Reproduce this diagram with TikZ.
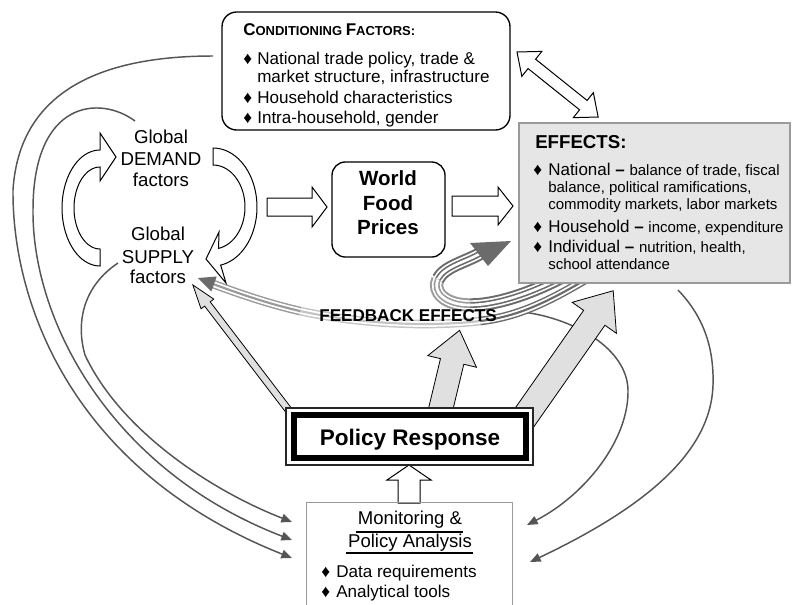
\documentclass[tikz,border=0pt]{standalone}
\usepackage{fontspec}
\setmainfont{Liberation Sans}
\usetikzlibrary{arrows.meta,fit}
\definecolor{curvegray}{HTML}{555555}
\definecolor{rdark}{HTML}{6B6B6B}
\definecolor{rlight}{HTML}{C4C4C4}
\definecolor{rmid}{HTML}{9A9A9A}
\definecolor{effbg}{HTML}{E6E6E6}
\definecolor{effline}{HTML}{9A9A9A}
\definecolor{arrfill}{HTML}{E0E0E0}
\newcommand\blockarr[8]{%
  \draw[#1,shift={(#2,#3)},rotate=#4] (0,-#6) -- ({#5-#8},-#6) -- ({#5-#8},-#7) -- (#5,0) -- ({#5-#8},#7) -- ({#5-#8},#6) -- (0,#6) -- cycle;}
\newcommand\esmall{\fontsize{11.25pt}{13pt}\selectfont}
\tikzset{
  lbl/.style={anchor=base west, inner sep=0pt},
  clbl/.style={anchor=base, inner sep=0pt},
  bul/.style={anchor=base west, inner sep=0pt, font=\fontsize{13pt}{14pt}\selectfont},
  ctxt/.style={lbl, font=\fontsize{12.8pt}{15pt}\selectfont},
  etxt/.style={lbl, font=\fontsize{12.75pt}{15pt}\selectfont},
  gtxt/.style={clbl, font=\fontsize{14pt}{16pt}\selectfont},
  wtxt/.style={clbl, font=\bfseries\fontsize{15.4pt}{18pt}\selectfont},
  thincurve/.style={draw=curvegray, line width=1.1pt, -{Triangle[length=8pt,width=6.5pt]}},
  openarr/.style={draw=black, fill=white, line width=0.75pt, line join=miter},
  grayarr/.style={draw=black, fill=arrfill, line width=0.6pt, line join=miter},
  ribU/.style={draw=#1, line width=10pt, postaction={draw=white, line width=7pt}, postaction={draw=#1, line width=4.5pt}, postaction={draw=white, line width=2pt}},
  ribL/.style={draw=#1, line width=6.5pt, postaction={draw=white, line width=4.3pt}, postaction={draw=#1, line width=1.6pt}},
}
\begin{document}
\begin{tikzpicture}[x=0.75pt,y=-0.75pt]
\useasboundingbox (0,0) rectangle (792,604);

% named end points
\coordinate (c1s) at (213,56);  \coordinate (c1e) at (292,558);
\coordinate (c2s) at (135,121); \coordinate (c2e) at (292,540);
\coordinate (c3s) at (118,263); \coordinate (c3e) at (292,522);
\coordinate (r1s) at (512,311); \coordinate (r1e) at (527,525);
\coordinate (r2s) at (678,290); \coordinate (r2e) at (530,562);

% thin curved connectors
\draw[thincurve] (c1s) .. controls (120,56) and (20,80) .. (13,190) .. controls (12,300) and (70,470) .. (c1e);
\draw[thincurve] (c2s) .. controls (100,95) and (33,100) .. (33,210) .. controls (32,320) and (110,470) .. (c2e);
\draw[thincurve] (c3s) .. controls (85,285) and (75,320) .. (85,355) .. controls (120,430) and (210,490) .. (c3e);
\draw[thincurve] (r1s) .. controls (565,314) and (627,345) .. (628,390) .. controls (629,440) and (585,495) .. (r1e);
\draw[thincurve] (r2s) .. controls (705,318) and (714,350) .. (713,385) .. controls (711,450) and (650,505) .. (r2e);

% feedback ribbons
\draw[ribL=rdark] (605,268) .. controls (560,295) and (525,316) .. (480,321);
\draw[ribL=rlight] (480,321) .. controls (420,328) and (350,322) .. (300,311);
\draw[ribL=rmid] (300,311) .. controls (265,303) and (235,292) .. (213,284);
\fill[rdark] (198,278) -- (216.7,276.5) -- (211.3,291.5) -- cycle;
\draw[ribU=rdark] (575,270) .. controls (540,290) and (500,305) .. (470,305);
\draw[ribU=rmid] (470,305) .. controls (445,305) and (432,292) .. (438,279);
\draw[ribU=rdark] (438,279) .. controls (445,266) and (466,262) .. (481,253);
\fill[rdark] (470,243) -- (511,241) -- (488,266) -- cycle;

% boxes
\node[fit={(519,123)(790,283)}, inner sep=0pt, draw=effline, fill=effbg, line width=1.2pt] (eff) {};
\node[fit={(222,12)(510,130)}, inner sep=0pt, draw, fill=white, line width=1pt, rounded corners=11pt] (cond) {};
\node[fit={(332,162)(445,257)}, inner sep=0pt, draw, fill=white, line width=1pt, rounded corners=10pt] (wfp) {};

% open block arrows
\begin{scope}[shift={(517,52)}, rotate=-38.7]
\draw[openarr] (0,0) -- (19,-16) -- (19,-6) -- (85,-6) -- (85,-16) -- (104,0) -- (85,16) -- (85,6) -- (19,6) -- (19,16) -- cycle;
\end{scope}
\blockarr{openarr}{267}{207}{0}{60}{9}{20}{15}
\blockarr{openarr}{452}{206}{0}{61}{10}{19}{15}
\blockarr{openarr}{409}{503}{90}{38}{11}{22}{15}

% curved open arrows
\draw[openarr] (100,266) -- plot[domain=90:270, samples=40] ({100+38*cos(\x)},{208+58*sin(\x)})
  -- (100,133) -- (116,157) -- (100,181) -- (100,167)
  -- plot[domain=270:90, samples=40] ({100+26*cos(\x)},{208+41*sin(\x)}) -- cycle;
\draw[openarr] (213,148) -- plot[domain=-90:80, samples=40] ({213+44*cos(\x)},{207+59*sin(\x)})
  -- (226,283) -- (206,259) -- (219,232)
  -- plot[domain=80:-90, samples=40] ({213+32*cos(\x)},{207+42*sin(\x)}) -- cycle;

% gray block arrows from policy response
\blockarr{grayarr}{290}{412}{127.4}{160}{3.5}{8}{24}
\blockarr{grayarr}{440}{412}{76.5}{84}{12}{25}{32}
\blockarr{grayarr}{522}{421}{55}{159}{13}{27}{33}

% policy response box
\node[fit={(286,408)(533,465)}, inner sep=0pt, draw=black!85, fill=white, line width=0.8pt] (prout) {};
\node[fit={(293.5,415)(525.5,458)}, inner sep=0pt, draw=black, line width=4.5pt] (pr) {};

% monitoring box
\node[fit={(307,503)(512,608)}, inner sep=0pt] (mon) {};
\draw[draw=effline, line width=1pt] (mon.south west) -- (mon.north west) -- (mon.north east) -- (mon.south east);

% texts: conditioning
\node[lbl, font=\bfseries] (condh) at (243,35) {\fontsize{12.75pt}{14pt}\selectfont C\fontsize{9.75pt}{12pt}\selectfont ONDITIONING \fontsize{12.75pt}{14pt}\selectfont F\fontsize{9.75pt}{12pt}\selectfont ACTORS:};
\node[bul] (cb1) at (243,64) {♦};
\node[ctxt] (ct1) at (257,64) {National trade policy, trade \&};
\node[ctxt] (ct2) at (257,82) {market structure, infrastructure};
\node[bul] (cb2) at (243,103) {♦};
\node[ctxt] (ct3) at (257,103) {Household characteristics};
\node[bul] (cb3) at (243,123) {♦};
\node[ctxt] (ct4) at (257,123) {Intra-household, gender};

% texts: effects
\node[lbl, font=\bfseries\fontsize{14pt}{16pt}\selectfont] (effh) at (535,148) {EFFECTS:};
\node[bul] (eb1) at (533,175) {♦};
\node[etxt] (e1) at (548,175) {National \textbf{–} {\esmall balance of trade, fiscal}};
\node[lbl, font=\esmall] (e2) at (548,192) {balance, political ramifications,};
\node[lbl, font=\esmall] (e3) at (548,209) {commodity markets, labor markets};
\node[bul] (eb2) at (533,232) {♦};
\node[etxt] (e4) at (548,232) {Household \textbf{–} {\esmall income, expenditure}};
\node[bul] (eb3) at (533,252) {♦};
\node[etxt] (e5) at (548,252) {Individual \textbf{–} {\esmall nutrition, health,}};
\node[lbl, font=\esmall] (e6) at (548,269) {school attendance};

% global factors
\node[gtxt] (gd1) at (161,143) {Global};
\node[gtxt] (gd2) at (161,165) {DEMAND};
\node[gtxt] (gd3) at (161,186) {factors};
\node[gtxt] (gs1) at (158,240) {Global};
\node[gtxt] (gs2) at (158,263) {SUPPLY};
\node[gtxt] (gs3) at (158,283) {factors};

% world food prices
\node[wtxt] (w1) at (388,185) {World};
\node[wtxt] (w2) at (388,210) {Food};
\node[wtxt] (w3) at (388,234) {Prices};

% feedback label
\node[clbl, font=\bfseries\fontsize{12.8pt}{15pt}\selectfont] (fbt) at (408,321) {FEEDBACK EFFECTS};

% policy response label
\node[clbl, font=\bfseries\fontsize{16.9pt}{20pt}\selectfont] (prt) at (410,445) {Policy Response};

% monitoring texts
\node[clbl, font=\fontsize{13.9pt}{16pt}\selectfont] (m1) at (410,524) {Monitoring \&};
\node[clbl, font=\fontsize{13.9pt}{16pt}\selectfont] (m2) at (410,547) {Policy Analysis};
\draw[line width=1.5pt] (356,532) -- (463,532);
\draw[line width=1.5pt] (346,553) -- (473,553);
\node[bul] (mb1) at (321,577) {♦};
\node[ctxt] (mt1) at (336,577) {Data requirements};
\node[bul] (mb2) at (321,597) {♦};
\node[ctxt] (mt2) at (336,597) {Analytical tools};
\end{tikzpicture}
\end{document}
